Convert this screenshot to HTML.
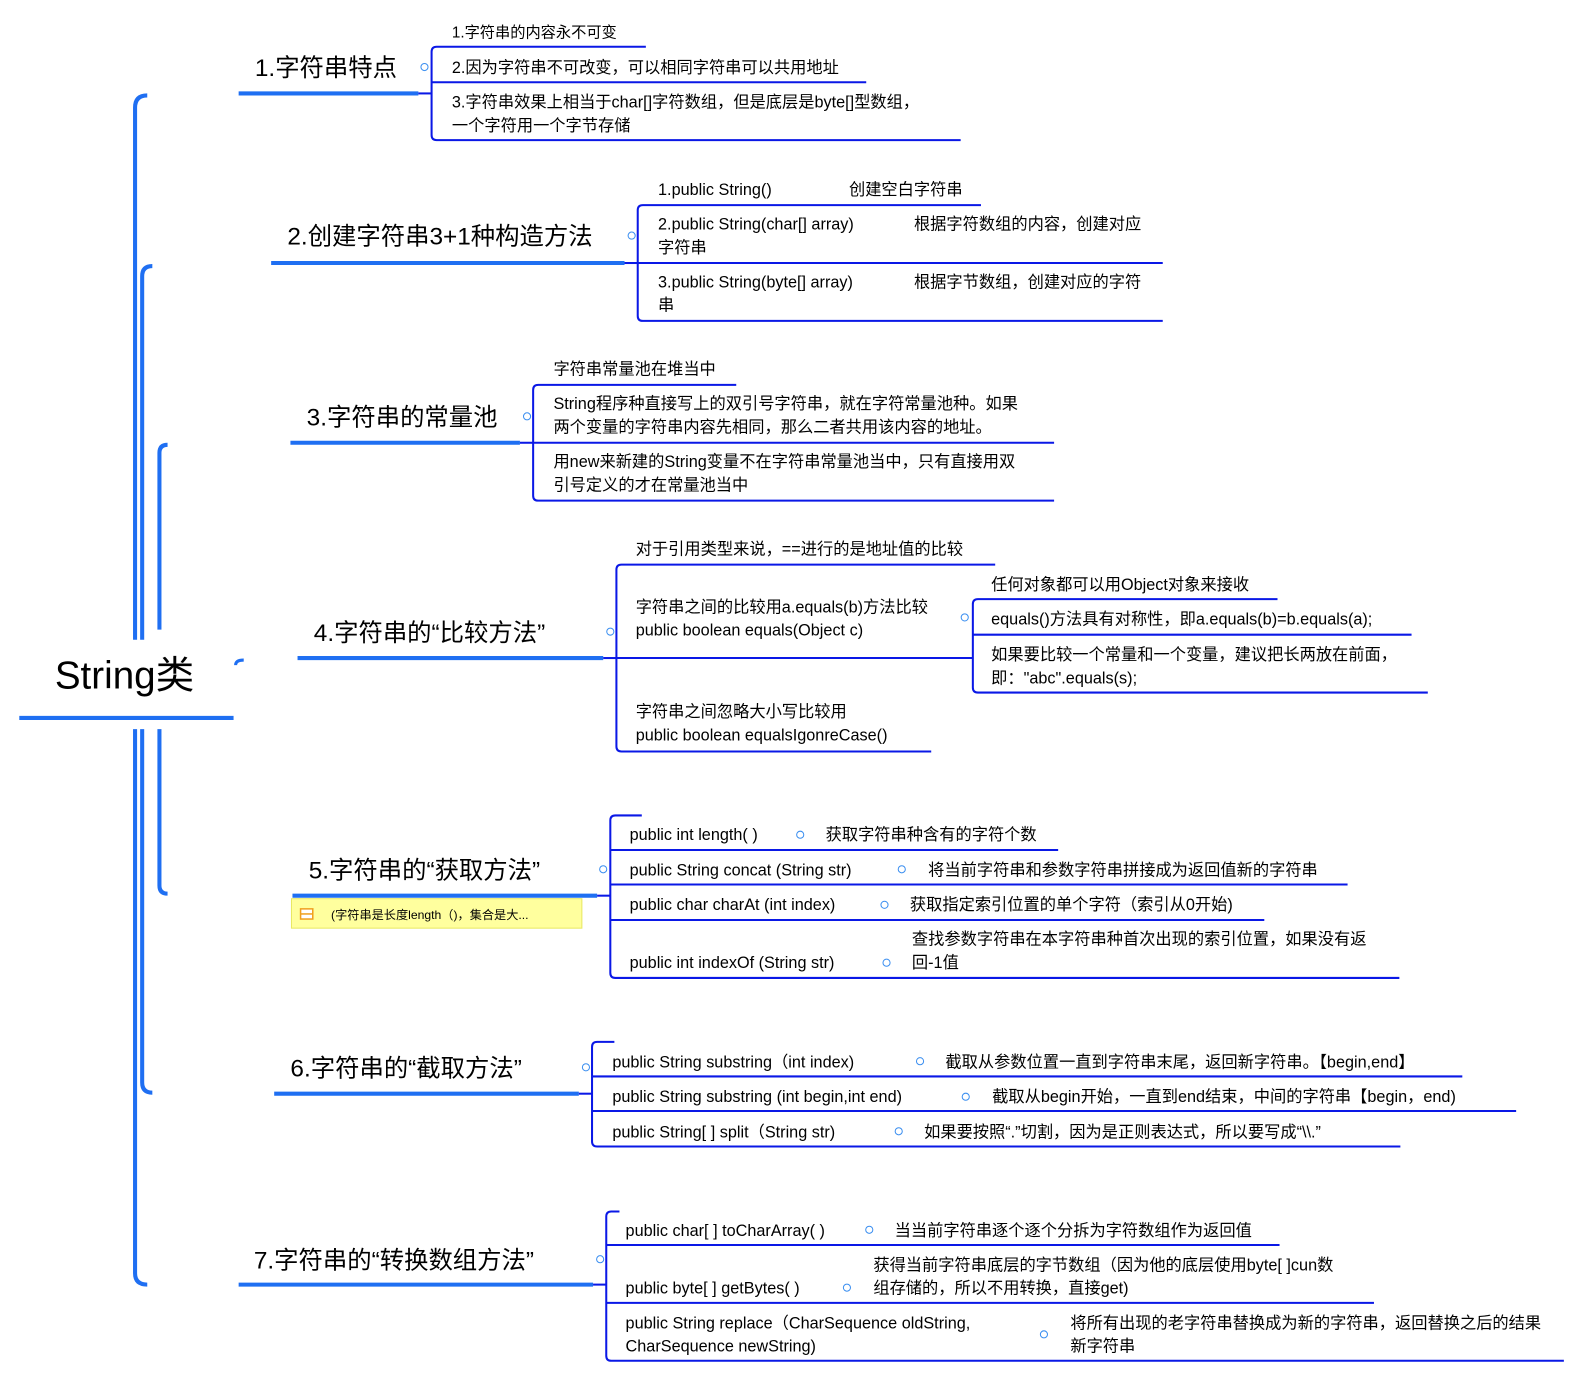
<!DOCTYPE html>
<html><head><meta charset="utf-8"><style>
html,body{margin:0;padding:0;background:#fff;}
svg{display:block;}
text{font-family:"Liberation Sans","Noto Sans CJK SC",sans-serif;fill:#000;}
.t{font-size:16px;}
.s{font-size:15px;}
.b{font-size:24px;}
.l{fill:none;stroke:#0a18e6;stroke-width:2;}
.m{fill:none;stroke:#1f6ff2;stroke-width:4;}
.i{fill:none;stroke:#3a8ef0;stroke-width:1;}
</style></head><body>
<svg width="1592" height="1378" viewBox="0 0 1592 1378" xmlns="http://www.w3.org/2000/svg">
<g transform="scale(1.0155)">
<path class="m" d="M145,94 Q133,94 133,106 V630 M133,718 V1254 Q133,1265 145,1265"/>
<path class="m" d="M150,262 Q140,262 140,272 V630 M140,718 V1066 Q140,1076 150,1076"/>
<path class="m" d="M165,438 Q157,438 157,446 V620 M157,718 V872 Q157,880 165,880"/>
<path class="m" d="M232,655 Q232,650 240,650" style="stroke-width:3"/>
<text x="54" y="678" style="font-size:38px">String类</text>
<line class="m" x1="19" y1="707" x2="230" y2="707"/>

<text class="b" x="251" y="75">1.字符串特点</text>
<line class="m" x1="235" y1="92" x2="412" y2="92"/>
<line class="l" x1="412" y1="92" x2="425" y2="92"/>
<circle class="i" cx="418" cy="66" r="3.5"/>
<path class="l" d="M636,46 H430 Q425,46 425,51 V133 Q425,138 430,138 H946"/>
<line class="l" x1="425" y1="81" x2="853" y2="81"/>
<text class="s" x="445" y="37">1.字符串的内容永不可变</text>
<text class="t" x="445" y="72">2.因为字符串不可改变，可以相同字符串可以共用地址</text>
<text class="t" x="445" y="106">3.字符串效果上相当于char[]字符数组，但是底层是byte[]型数组，</text>
<text class="t" x="445" y="129">一个字符用一个字节存储</text>

<text class="b" x="283" y="241">2.创建字符串3+1种构造方法</text>
<line class="m" x1="267" y1="259" x2="615" y2="259"/>
<line class="l" x1="615" y1="259" x2="628" y2="259"/>
<circle class="i" cx="622" cy="232" r="3.5"/>
<path class="l" d="M966,202 H633 Q628,202 628,207 V311 Q628,316 633,316 H1145"/>
<line class="l" x1="628" y1="259" x2="1145" y2="259"/>
<text class="t" x="648" y="192">1.public String()</text><text class="t" x="836" y="192">创建空白字符串</text>
<text class="t" x="648" y="226">2.public String(char[] array)</text><text class="t" x="900" y="226">根据字符数组的内容，创建对应</text>
<text class="t" x="648" y="249">字符串</text>
<text class="t" x="648" y="283">3.public String(byte[] array)</text><text class="t" x="900" y="283">根据字节数组，创建对应的字符</text>
<text class="t" x="648" y="306">串</text>

<text class="b" x="302" y="419">3.字符串的常量池</text>
<line class="m" x1="286" y1="436" x2="512" y2="436"/>
<line class="l" x1="512" y1="436" x2="525" y2="436"/>
<circle class="i" cx="519" cy="410" r="3.5"/>
<path class="l" d="M725,379 H530 Q525,379 525,384 V488 Q525,493 530,493 H1038"/>
<line class="l" x1="525" y1="436" x2="1038" y2="436"/>
<text class="t" x="545" y="369">字符串常量池在堆当中</text>
<text class="t" x="545" y="403">String程序种直接写上的双引号字符串，就在字符常量池种。如果</text>
<text class="t" x="545" y="426">两个变量的字符串内容先相同，那么二者共用该内容的地址。</text>
<text class="t" x="545" y="460">用new来新建的String变量不在字符串常量池当中，只有直接用双</text>
<text class="t" x="545" y="483">引号定义的才在常量池当中</text>

<text class="b" x="309" y="631">4.字符串的“比较方法”</text>
<line class="m" x1="293" y1="648" x2="594" y2="648"/>
<line class="l" x1="594" y1="648" x2="607" y2="648"/>
<circle class="i" cx="601" cy="622" r="3.5"/>
<path class="l" d="M980,556 H612 Q607,556 607,561 V735 Q607,740 612,740 H917"/>
<line class="l" x1="607" y1="648" x2="958" y2="648"/>
<text class="t" x="626" y="546">对于引用类型来说，==进行的是地址值的比较</text>
<text class="t" x="626" y="603">字符串之间的比较用a.equals(b)方法比较</text>
<text class="t" x="626" y="626">public boolean equals(Object c)</text>
<text class="t" x="626" y="706">字符串之间忽略大小写比较用</text>
<text class="t" x="626" y="729">public boolean equalsIgonreCase()</text>
<circle class="i" cx="950" cy="608" r="3.5"/>
<path class="l" d="M1258,590 H963 Q958,590 958,595 V677 Q958,682 963,682 H1406"/>
<line class="l" x1="958" y1="625" x2="1390" y2="625"/>
<text class="t" x="976" y="581">任何对象都可以用Object对象来接收</text>
<text class="t" x="976" y="615">equals()方法具有对称性，即a.equals(b)=b.equals(a);</text>
<text class="t" x="976" y="650">如果要比较一个常量和一个变量，建议把长两放在前面，</text>
<text class="t" x="976" y="673">即："abc".equals(s);</text>

<text class="b" x="304" y="865">5.字符串的“获取方法”</text>
<line class="m" x1="288" y1="882" x2="588" y2="882"/>
<line class="l" x1="588" y1="882" x2="601" y2="882"/>
<circle class="i" cx="594" cy="856" r="3.5"/>
<rect x="287" y="885" width="286" height="29" fill="#ffff9e" stroke="#e8e860" stroke-width="1"/>
<rect x="296" y="895" width="12" height="10" fill="#fff" stroke="#f0a020" stroke-width="1.5"/>
<line x1="296" y1="900" x2="308" y2="900" stroke="#f0a020" stroke-width="1.5"/>
<text x="326" y="905" style="font-size:12px">(字符串是长度length（)，集合是大...</text>
<path class="l" d="M632,803 H606 Q601,803 601,808 V958 Q601,963 606,963 H1378"/>
<line class="l" x1="601" y1="837" x2="1042" y2="837"/>
<line class="l" x1="601" y1="871" x2="1327" y2="871"/>
<line class="l" x1="601" y1="906" x2="1245" y2="906"/>
<text class="t" x="620" y="827">public int length( )</text><circle class="i" cx="788" cy="822" r="3.5"/><text class="t" x="813" y="827">获取字符串种含有的字符个数</text>
<text class="t" x="620" y="862">public String concat (String str)</text><circle class="i" cx="888" cy="856" r="3.5"/><text class="t" x="914" y="862">将当前字符串和参数字符串拼接成为返回值新的字符串</text>
<text class="t" x="620" y="896">public char charAt (int index)</text><circle class="i" cx="871" cy="891" r="3.5"/><text class="t" x="896" y="896">获取指定索引位置的单个字符（索引从0开始)</text>
<text class="t" x="898" y="930">查找参数字符串在本字符串种首次出现的索引位置，如果没有返</text>
<text class="t" x="620" y="953">public int indexOf (String str)</text><circle class="i" cx="873" cy="948" r="3.5"/><text class="t" x="898" y="953">回-1值</text>

<text class="b" x="286" y="1060">6.字符串的“截取方法”</text>
<line class="m" x1="270" y1="1077" x2="570" y2="1077"/>
<line class="l" x1="570" y1="1077" x2="583" y2="1077"/>
<circle class="i" cx="577" cy="1051" r="3.5"/>
<path class="l" d="M605,1026 H588 Q583,1026 583,1031 V1124 Q583,1129 588,1129 H1379"/>
<line class="l" x1="583" y1="1060" x2="1440" y2="1060"/>
<line class="l" x1="583" y1="1094" x2="1493" y2="1094"/>
<text class="t" x="603" y="1051">public String substring（int index)</text><circle class="i" cx="906" cy="1045" r="3.5"/><text class="t" x="931" y="1051">截取从参数位置一直到字符串末尾，返回新字符串。【begin,end】</text>
<text class="t" x="603" y="1085">public String substring (int begin,int end)</text><circle class="i" cx="951" cy="1080" r="3.5"/><text class="t" x="977" y="1085">截取从begin开始，一直到end结束，中间的字符串【begin，end)</text>
<text class="t" x="603" y="1120">public String[ ] split（String str)</text><circle class="i" cx="885" cy="1114" r="3.5"/><text class="t" x="910" y="1120">如果要按照“.”切割，因为是正则表达式，所以要写成“\\.”</text>

<text class="b" x="250" y="1249">7.字符串的“转换数组方法”</text>
<line class="m" x1="235" y1="1265" x2="584" y2="1265"/>
<line class="l" x1="584" y1="1265" x2="597" y2="1265"/>
<circle class="i" cx="591" cy="1240" r="3.5"/>
<path class="l" d="M610,1193 H602 Q597,1193 597,1198 V1335 Q597,1340 602,1340 H1540"/>
<line class="l" x1="597" y1="1226" x2="1260" y2="1226"/>
<line class="l" x1="597" y1="1283" x2="1353" y2="1283"/>
<text class="t" x="616" y="1217">public char[ ] toCharArray( )</text><circle class="i" cx="856" cy="1211" r="3.5"/><text class="t" x="881" y="1217">当当前字符串逐个逐个分拆为字符数组作为返回值</text>
<text class="t" x="860" y="1251">获得当前字符串底层的字节数组（因为他的底层使用byte[ ]cun数</text>
<text class="t" x="616" y="1274">public byte[ ] getBytes( )</text><circle class="i" cx="834" cy="1268" r="3.5"/><text class="t" x="860" y="1274">组存储的，所以不用转换，直接get)</text>
<text class="t" x="616" y="1308">public String replace（CharSequence oldString,</text>
<text class="t" x="616" y="1331">CharSequence newString)</text><circle class="i" cx="1028" cy="1314" r="3.5"/>
<text class="t" x="1054" y="1308">将所有出现的老字符串替换成为新的字符串，返回替换之后的结果</text>
<text class="t" x="1054" y="1331">新字符串</text>
</g>
</svg>
</body></html>
